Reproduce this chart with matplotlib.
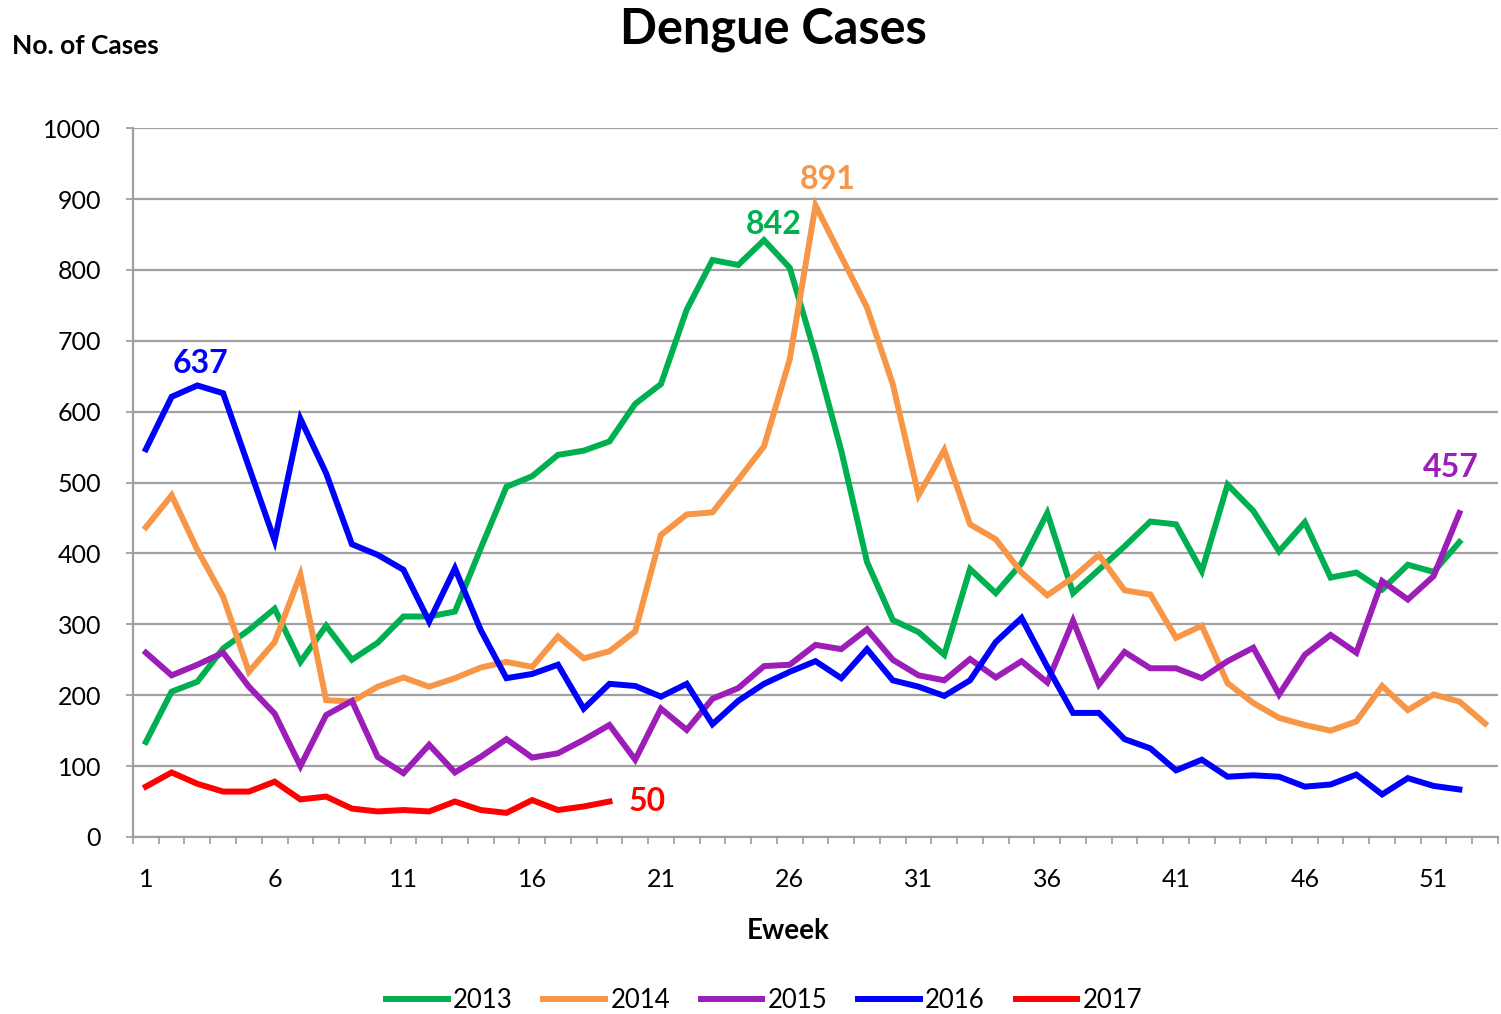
import matplotlib
matplotlib.use("Agg")
import matplotlib.pyplot as plt
from matplotlib.ticker import MultipleLocator

plt.rcParams['font.family'] = ['Lato', 'DejaVu Sans']

# weekly dengue cases
cases_2013 = [134, 205, 219, 266, 292, 322, 247, 298, 250, 274,
              311, 311, 318, 407, 494, 509, 539, 545, 558, 611,
              639, 744, 814, 807, 842, 803, 680, 545, 388, 306,
              289, 257, 378, 344, 386, 457, 344, 377, 410, 445,
              441, 375, 497, 460, 403, 444, 366, 373, 349, 384,
              374, 416]
cases_2014 = [437, 482, 405, 339, 233, 275, 370, 193, 191, 212,
              225, 212, 224, 239, 247, 240, 283, 252, 262, 290,
              426, 455, 458, 504, 551, 674, 891, 819, 747, 639,
              482, 546, 441, 420, 373, 341, 366, 398, 348, 342,
              281, 298, 217, 189, 168, 158, 150, 163, 213, 179,
              201, 191, 160]
cases_2015 = [260, 228, 243, 260, 212, 174, 100, 172, 192, 113,
              90, 130, 91, 113, 138, 112, 118, 137, 158, 109,
              181, 151, 195, 210, 241, 243, 271, 265, 293, 250,
              228, 221, 251, 225, 248, 218, 305, 215, 261, 238,
              238, 224, 248, 267, 201, 257, 285, 260, 361, 335,
              368, 457]
cases_2016 = [547, 621, 637, 626, 522, 418, 590, 513, 413, 398,
              377, 304, 379, 292, 224, 230, 243, 181, 216, 213,
              198, 216, 159, 192, 216, 233, 248, 224, 265, 221,
              212, 199, 221, 275, 309, 240, 175, 175, 138, 125,
              94, 109, 85, 87, 85, 71, 74, 88, 60, 83,
              72, 67]
cases_2017 = [71, 91, 75, 64, 64, 78, 53, 57, 40, 36,
              38, 36, 50, 38, 34, 52, 38, 43, 50]

years = ["2013", "2014", "2015", "2016", "2017"]
colors = ["#00B050", "#F79646", "#9C1DB8", "#0000FF", "#FF0000"]
all_series = [cases_2013, cases_2014, cases_2015, cases_2016, cases_2017]

# (year index, week, label, offset in points)
peak_labels = [(3, 3, "637", (2, 16)), (0, 25, "842", (7, 11)),
               (1, 27, "891", (9, 19)), (2, 52, "457", (-6, 33)),
               (4, 19, "50", (27, 0))]

fig = plt.figure(figsize=(15.01, 10.14), dpi=100)
ax = fig.add_axes([0.0886, 0.1746, 0.9094, 0.699])

for yr, col, vals in zip(years, colors, all_series):
    wk = list(range(1, len(vals) + 1))
    ax.plot(wk, vals, color=col, lw=4.3, label=yr, solid_joinstyle="miter")

for idx, wk, txt, off in peak_labels:
    val = all_series[idx][wk - 1]
    ax.annotate(txt, (wk, val), xytext=off, textcoords="offset points",
                ha="center", va="center", fontsize=23, fontweight="bold",
                color=colors[idx])

ax.set_xlim(0.5, 53.5)
ax.set_ylim(0, 1000)
ax.yaxis.set_major_locator(MultipleLocator(100))
ax.set_xticks(range(1, 54, 5))
ax.set_xticks([w + 0.5 for w in range(0, 54)], minor=True)
ax.tick_params(axis="x", which="major", length=0, pad=22, labelsize=18)
ax.tick_params(axis="x", which="minor", length=5, width=1.2, color="#9a9a9a")
ax.tick_params(axis="y", length=5, width=1.2, color="#9a9a9a", pad=18, labelsize=18)

ax.grid(axis="y", color="#a0a0a0", lw=1.6)
ax.set_axisbelow(True)
for s in ["top", "right"]:
    ax.spines[s].set_visible(False)
for s in ["left", "bottom"]:
    ax.spines[s].set_color("#a0a0a0")
    ax.spines[s].set_linewidth(1.6)

fig.text(0.515, 0.971, "Dengue Cases", ha="center", va="center",
         fontsize=35, fontweight="bold")
fig.text(0.008, 0.955, "No. of Cases", ha="left", va="center",
         fontsize=19, fontweight="bold")
fig.text(0.525, 0.082, "Eweek", ha="center", va="center",
         fontsize=20, fontweight="bold")

fig.legend(loc="center", bbox_to_anchor=(0.509, 0.013), ncol=5,
           frameon=False, fontsize=18.5, handlelength=2.4,
           handletextpad=0.2, columnspacing=1.2)

fig.savefig("out.png", dpi=100)
